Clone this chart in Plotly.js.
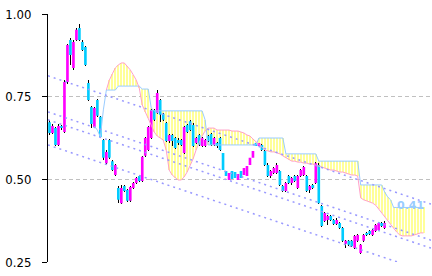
<!DOCTYPE html>
<html><head><meta charset="utf-8">
<script src="https://cdn.plot.ly/plotly-3.0.1.min.js"></script>
<style>html,body{margin:0;padding:0;background:#fff}#chart{width:432px;height:276px}</style>
</head><body><div id="chart"></div>
<script>
// Candle OHLC (one entry per period)
const open = [0.673,0.640,0.655,0.604,0.661,0.643,0.794,0.921,0.837,0.921,0.958,0.915,0.900,0.791,0.719,0.658,0.740,0.689,0.619,0.549,
0.619,0.555,0.513,0.474,0.428,0.480,0.468,0.435,0.474,0.489,0.510,0.495,0.571,0.589,0.625,0.710,0.701,0.740,0.698,0.670,
0.616,0.634,0.625,0.619,0.619,0.580,0.664,0.676,0.664,0.610,0.634,0.601,0.601,0.631,0.637,0.604,0.610,0.625,0.580,0.525,
0.498,0.525,0.522,0.498,0.525,0.513,0.510,0.543,0.565,0.610,0.601,0.604,0.586,0.543,0.510,0.519,0.519,0.525,0.480,0.465,
0.510,0.489,0.510,0.474,0.510,0.513,0.510,0.468,0.483,0.489,0.543,0.419,0.374,0.377,0.389,0.377,0.365,0.368,0.353,0.305,
0.314,0.314,0.292,0.314,0.277,0.314,0.338,0.344,0.332,0.344,0.347,0.368,0.353];
const high = [0.680,0.667,0.658,0.667,0.664,0.800,0.909,0.927,0.921,0.958,0.970,0.921,0.903,0.800,0.722,0.719,0.743,0.692,0.622,0.589,
0.622,0.559,0.546,0.480,0.483,0.483,0.471,0.480,0.492,0.507,0.513,0.571,0.628,0.661,0.713,0.713,0.770,0.743,0.701,0.673,
0.637,0.637,0.628,0.625,0.622,0.661,0.667,0.680,0.670,0.628,0.637,0.628,0.622,0.634,0.640,0.628,0.613,0.628,0.583,0.528,
0.522,0.528,0.525,0.519,0.528,0.537,0.543,0.568,0.589,0.613,0.613,0.607,0.589,0.549,0.528,0.537,0.549,0.528,0.483,0.492,
0.513,0.507,0.513,0.513,0.531,0.540,0.513,0.483,0.486,0.552,0.549,0.422,0.401,0.392,0.392,0.380,0.383,0.371,0.356,0.317,
0.317,0.317,0.332,0.335,0.305,0.335,0.341,0.347,0.350,0.365,0.371,0.371,0.374];
const low = [0.634,0.637,0.601,0.601,0.649,0.640,0.788,0.846,0.831,0.918,0.918,0.888,0.843,0.737,0.655,0.655,0.689,0.625,0.559,0.546,
0.562,0.525,0.510,0.428,0.425,0.462,0.432,0.432,0.471,0.486,0.492,0.492,0.568,0.586,0.622,0.676,0.698,0.673,0.676,0.613,
0.610,0.601,0.592,0.604,0.601,0.577,0.640,0.646,0.598,0.607,0.601,0.598,0.598,0.613,0.601,0.601,0.595,0.586,0.525,0.507,
0.495,0.480,0.501,0.495,0.501,0.510,0.498,0.540,0.562,0.598,0.598,0.586,0.540,0.507,0.504,0.516,0.516,0.480,0.462,0.462,
0.486,0.483,0.492,0.471,0.507,0.510,0.462,0.459,0.471,0.486,0.425,0.356,0.371,0.362,0.374,0.362,0.362,0.350,0.311,0.292,
0.298,0.295,0.289,0.311,0.274,0.311,0.329,0.332,0.329,0.341,0.344,0.356,0.350];
const close = [0.640,0.661,0.604,0.661,0.655,0.794,0.906,0.876,0.915,0.952,0.921,0.891,0.846,0.740,0.667,0.716,0.692,0.628,0.565,0.583,
0.565,0.528,0.543,0.438,0.474,0.465,0.435,0.477,0.489,0.504,0.495,0.568,0.625,0.658,0.710,0.680,0.761,0.695,0.680,0.616,
0.634,0.616,0.595,0.610,0.604,0.658,0.643,0.649,0.601,0.625,0.604,0.625,0.619,0.616,0.604,0.625,0.601,0.589,0.528,0.510,
0.519,0.501,0.504,0.516,0.504,0.534,0.540,0.565,0.586,0.601,0.610,0.589,0.543,0.510,0.525,0.534,0.543,0.483,0.465,0.489,
0.489,0.504,0.495,0.510,0.528,0.537,0.465,0.480,0.474,0.549,0.428,0.359,0.398,0.389,0.377,0.365,0.377,0.353,0.314,0.314,
0.302,0.298,0.329,0.332,0.302,0.332,0.332,0.335,0.347,0.362,0.368,0.359,0.368];

// Cloud spans (leading span A pink, leading span B light blue)
const spanAStart = 19;
const spanA = [0.770,0.800,0.819,0.837,0.846,0.852,0.852,0.843,0.831,0.816,0.800,0.776,0.725,0.704,0.686,0.664,0.643,0.631,0.625,0.619,
0.589,0.528,0.513,0.504,0.498,0.498,0.507,0.522,0.543,0.562,0.589,0.613,0.631,0.646,0.655,0.655,0.655,0.649,0.649,0.649,
0.649,0.649,0.646,0.646,0.646,0.643,0.640,0.634,0.631,0.622,0.613,0.604,0.595,0.589,0.586,0.583,0.583,0.580,0.577,0.571,
0.565,0.559,0.555,0.555,0.552,0.552,0.549,0.549,0.546,0.546,0.543,0.540,0.537,0.534,0.531,0.528,0.528,0.525,0.522,0.522,
0.519,0.516,0.513,0.513,0.510,0.444,0.438,0.435,0.432,0.428,0.422,0.410,0.398,0.386,0.377,0.365,0.353,0.341,0.332,0.329,
0.329,0.329,0.329,0.332,0.335,0.338,0.338];
const spanBStart = 15;
const spanB = [0.661,0.649,0.628,0.710,0.770,0.770,0.770,0.770,0.782,0.782,0.782,0.782,0.782,0.782,0.782,0.782,0.773,0.773,0.773,0.716,
0.707,0.707,0.707,0.707,0.707,0.707,0.707,0.707,0.707,0.707,0.707,0.707,0.707,0.707,0.707,0.707,0.707,0.680,
0.604,0.604,0.604,0.604,0.604,0.604,0.604,0.604,0.604,0.604,0.604,0.604,0.604,0.604,0.604,0.604,0.604,
0.625,0.625,0.625,0.625,0.625,0.625,0.625,0.625,0.625,
0.577,0.577,0.577,0.577,0.577,0.577,0.577,0.577,0.577,0.577,0.577,
0.555,0.555,0.555,0.555,0.555,0.555,0.555,0.555,0.555,0.555,0.555,0.555,0.555,0.555,
0.483,0.483,0.483,0.483,0.483,0.483,0.483,0.483,0.462,0.447,0.438,
0.415,0.415,0.415,0.415,0.415,0.415,0.415,0.415,0.415,0.415,0.415];

// Parallel trend channel lines: value at left edge and right edge
const trendX = [-0.5, 127.5];
const trendStartVals = [0.813, 0.704, 0.680, 0.604];
const trendEndVals = [0.425, 0.316, 0.292, 0.216];

const tickVals = [0.25, 0.50, 0.75, 1.00];
const tickLabels = ['0.25', '0.50', '0.75', '1.00'];
const endLabel = '0.41';
const endLabelX = 120.8;
const endLabelY = 0.422;

const idx = open.map((_, i) => i);
const traces = [];

// cloud as striped bars
const cx = [], cbase = [], ch = [];
for (let k = 0; k < spanA.length; k++) {
  const i = spanAStart + k;
  const a = spanA[k], b = spanB[i - spanBStart];
  if (b === undefined) continue;
  cx.push(i); cbase.push(Math.min(a, b)); ch.push(Math.abs(a - b));
}
traces.push({type: 'bar', x: cx, y: ch, base: cbase, width: 0.68,
  marker: {color: '#ffff99', line: {width: 0}}, hoverinfo: 'skip', showlegend: false});

// wicks
traces.push({type: 'bar', x: idx, y: high.map((h, i) => h - low[i]), base: low, width: 0.3,
  marker: {color: '#000000', line: {width: 0}}, hoverinfo: 'skip', showlegend: false});

// candle bodies
traces.push({type: 'candlestick', x: idx, open: open, high: high, low: low, close: close,
  increasing: {fillcolor: '#ff00ff', line: {color: '#ff00ff', width: 0}},
  decreasing: {fillcolor: '#00ccff', line: {color: '#00ccff', width: 0}},
  whiskerwidth: 0, hoverinfo: 'skip', showlegend: false});

// spans
traces.push({type: 'scatter', mode: 'lines', x: spanB.map((_, k) => spanBStart + k), y: spanB,
  line: {color: '#99ccff', width: 1}, hoverinfo: 'skip', showlegend: false});
traces.push({type: 'scatter', mode: 'lines', x: spanA.map((_, k) => spanAStart + k), y: spanA,
  line: {color: '#ffa0c8', width: 1}, hoverinfo: 'skip', showlegend: false});

// trend channel
for (let j = 0; j < trendStartVals.length; j++) {
  traces.push({type: 'scatter', mode: 'lines', x: trendX, y: [trendStartVals[j], trendEndVals[j]],
    line: {color: '#9999ff', width: 1.5, dash: '2px,4px'}, hoverinfo: 'skip', showlegend: false});
}

const layout = {
  width: 432, height: 276,
  margin: {l: 48, r: 1, t: 14, b: 14, pad: 0},
  paper_bgcolor: '#ffffff', plot_bgcolor: '#ffffff',
  barmode: 'overlay', bargap: 0,
  boxgap: 0.12, boxgroupgap: 0,
  showlegend: false,
  xaxis: {range: [-0.5, 127.5], showgrid: false, zeroline: false, showticklabels: false,
    showline: false, ticks: '', fixedrange: true, rangeslider: {visible: false}},
  yaxis: {range: [0.25, 1.0], tickvals: tickVals, ticktext: tickLabels,
    showgrid: true, gridcolor: '#c0c0c0', griddash: '4px,3px', gridwidth: 1,
    zeroline: false, showline: true, linecolor: '#000000', linewidth: 1,
    ticks: 'outside', ticklen: 5, tickcolor: '#000000', tickwidth: 1,
    ticklabelstandoff: 8,
    tickfont: {family: '"Liberation Sans Narrow", "DejaVu Sans Condensed", "Arial Narrow", sans-serif', size: 13, color: '#000000'},
    fixedrange: true},
  annotations: [{x: endLabelX, y: endLabelY, xref: 'x', yref: 'y', text: '<b>' + endLabel + '</b>',
    showarrow: false, font: {family: 'DejaVu Sans, sans-serif', size: 11, color: '#99ccff'}}]
};

Plotly.newPlot('chart', traces, layout, {staticPlot: true, displayModeBar: false});
</script>
</body></html>
